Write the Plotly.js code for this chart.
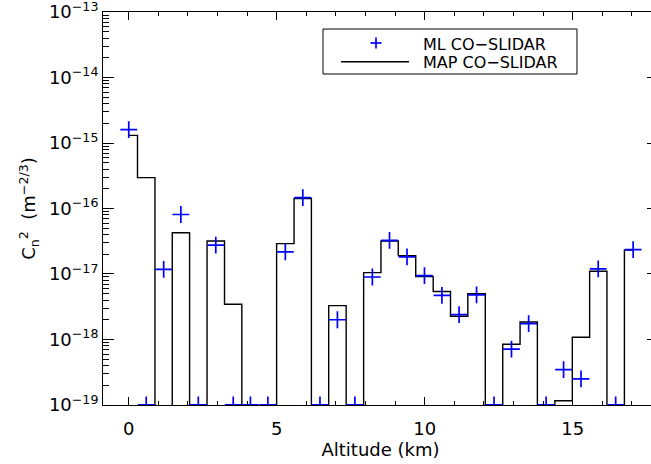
<!DOCTYPE html>
<html>
<head>
<meta charset="utf-8">
<script src="https://cdn.plot.ly/plotly-3.0.1.min.js"></script>
<style>
html, body { margin: 0; padding: 0; overflow: hidden; background: #fff; }
#chart { width: 660px; height: 464px; }
</style>
</head>
<body>
<div id="chart"></div>
<script>
// Altitude of each retrieval layer (km)
const altitude = [0, 0.59, 1.18, 1.76, 2.35, 2.94, 3.53, 4.11, 4.70, 5.29,
                  5.88, 6.46, 7.05, 7.64, 8.23, 8.81, 9.40, 9.99, 10.58, 11.16,
                  11.75, 12.34, 12.93, 13.51, 14.10, 14.69, 15.28, 15.86, 16.45, 17.04];
// ML CO-SLIDAR estimates of Cn2 (m^-2/3); 0 = at/below the plot floor
const mlCn2 = [1.6e-15, 0, 1.18e-17, 8.1e-17, 0, 2.75e-17, 0, 0, 0, 2.17e-17,
               1.47e-16, 0, 2.0e-18, 0, 9.0e-18, 3.27e-17, 1.82e-17, 9.45e-18, 4.7e-18, 2.4e-18,
               4.8e-18, 0, 7.1e-19, 1.75e-18, 0, 3.47e-19, 2.5e-19, 1.2e-17, 0, 2.35e-17];
// MAP CO-SLIDAR estimates of Cn2 (m^-2/3); 0 = at/below the plot floor
const mapCn2 = [1.31e-15, 2.96e-16, 0, 4.27e-17, 0, 3.19e-17, 3.45e-18, 0, 0, 2.91e-17,
                1.42e-16, 0, 3.29e-18, 0, 1.05e-17, 3.19e-17, 1.91e-17, 9.1e-18, 5.4e-18, 2.26e-18,
                5.0e-18, 0, 8.45e-19, 1.85e-18, 0, 1.16e-19, 1.08e-18, 1.1e-17, 0, 2.32e-17];
const yTickVals = [1e-19, 1e-18, 1e-17, 1e-16, 1e-15, 1e-14, 1e-13];
const yTickText = ['10<sup>−19</sup>', '10<sup>−18</sup>', '10<sup>−17</sup>', '10<sup>−16</sup>',
                   '10<sup>−15</sup>', '10<sup>−14</sup>', '10<sup>−13</sup>'];
const xTickVals = [0, 5, 10, 15];
const seriesNames = ['ML CO−SLIDAR', 'MAP CO−SLIDAR'];

const FLOOR = 1e-19;
const FONT = 'DejaVu Sans, Verdana, sans-serif';
const X_RANGE = [-0.87, 17.88];
const Y_RANGE = [-19.0004, -12.9996];

const mlPlot = mlCn2.map(v => v > 0 ? v : FLOOR);
const mapPlot = mapCn2.map(v => v > 0 ? v : 1e-22);

// minor tick positions (axis decoration)
const yMinor = [];
for (let e = -19; e < -13; e++) {
  for (let m = 2; m <= 9; m++) yMinor.push(m * Math.pow(10, e));
}
const xMinor = [];
for (let k = 0; k <= 17; k++) if (k % 5 !== 0) xMinor.push(k);

const traces = [
  { x: altitude, y: mapPlot, type: 'scatter', mode: 'lines', name: seriesNames[1],
    line: { color: '#000', width: 1.4, shape: 'hvh' }, cliponaxis: true, showlegend: false },
  { x: altitude, y: mlPlot, type: 'scatter', mode: 'markers', name: seriesNames[0],
    marker: { symbol: 'cross-thin', size: 12, color: 'rgb(0,0,255)', line: { color: 'rgb(0,0,255)', width: 1.7 } },
    cliponaxis: true, showlegend: false }
];

// legend drawn in paper coordinates
const lg = { x0: 0.3964, x1: 0.854, y0: 0.8422, y1: 0.9567, px: 0.4919, py: 0.9211, lx0: 0.4288, lx1: 0.5514, ly: 0.8735, tx: 0.573 };
const shapes = [
  { type: 'rect', xref: 'paper', yref: 'paper', x0: lg.x0, x1: lg.x1, y0: lg.y0, y1: lg.y1, line: { color: '#000', width: 1 }, fillcolor: 'rgba(0,0,0,0)' },
  { type: 'line', xref: 'paper', yref: 'paper', x0: lg.lx0, x1: lg.lx1, y0: lg.ly, y1: lg.ly, line: { color: '#000', width: 1.4 } },
  { type: 'line', xref: 'paper', yref: 'paper', x0: lg.px - 0.0099, x1: lg.px + 0.0099, y0: lg.py, y1: lg.py, line: { color: 'rgb(0,0,255)', width: 1.7 } },
  { type: 'line', xref: 'paper', yref: 'paper', x0: lg.px, x1: lg.px, y0: lg.py - 0.014, y1: lg.py + 0.014, line: { color: 'rgb(0,0,255)', width: 1.7 } }
];
const annotations = [
  { xref: 'paper', yref: 'paper', x: lg.tx, y: lg.py - 0.003, xanchor: 'left', yanchor: 'middle', text: seriesNames[0], showarrow: false, font: { family: FONT, size: 16, color: '#000' } },
  { xref: 'paper', yref: 'paper', x: lg.tx, y: lg.ly - 0.003, xanchor: 'left', yanchor: 'middle', text: seriesNames[1], showarrow: false, font: { family: FONT, size: 16, color: '#000' } }
];

const layout = {
  width: 660, height: 464,
  margin: { l: 103, r: 2, t: 12, b: 59 },
  paper_bgcolor: '#fff', plot_bgcolor: '#fff',
  font: { family: FONT, size: 18, color: '#000' },
  showlegend: false,
  xaxis: {
    range: X_RANGE, showgrid: false, zeroline: false,
    showline: true, linecolor: '#000', linewidth: 1, mirror: 'ticks',
    ticks: 'inside', ticklen: 8, tickwidth: 1, tickcolor: '#000',
    tickmode: 'array', tickvals: xTickVals, ticklabelstandoff: 7,
    tickfont: { family: FONT, size: 18 },
    minor: { ticks: 'inside', ticklen: 4, tickwidth: 1, tickcolor: '#000', tickmode: 'array', tickvals: xMinor, showgrid: false },
    title: { text: 'Altitude (km)', font: { family: FONT, size: 18 }, standoff: 4 }
  },
  yaxis: {
    type: 'log', range: Y_RANGE, showgrid: false, zeroline: false,
    showline: true, linecolor: '#000', linewidth: 1, mirror: 'ticks',
    ticks: 'inside', ticklen: 11, tickwidth: 1, tickcolor: '#000',
    tickmode: 'array', tickvals: yTickVals, ticktext: yTickText, ticklabeloverflow: 'allow',
    tickfont: { family: FONT, size: 18 },
    minor: { ticks: 'inside', ticklen: 6, tickwidth: 1, tickcolor: '#000', tickmode: 'array', tickvals: yMinor, showgrid: false },
    title: { text: 'C<sub>n</sub><sup>2</sup>  (m<sup>−2/3</sup>)', font: { family: FONT, size: 18 }, standoff: 8 }
  },
  shapes: shapes,
  annotations: annotations
};

Plotly.newPlot('chart', traces, layout, { displayModeBar: false, staticPlot: true });
</script>
</body>
</html>
